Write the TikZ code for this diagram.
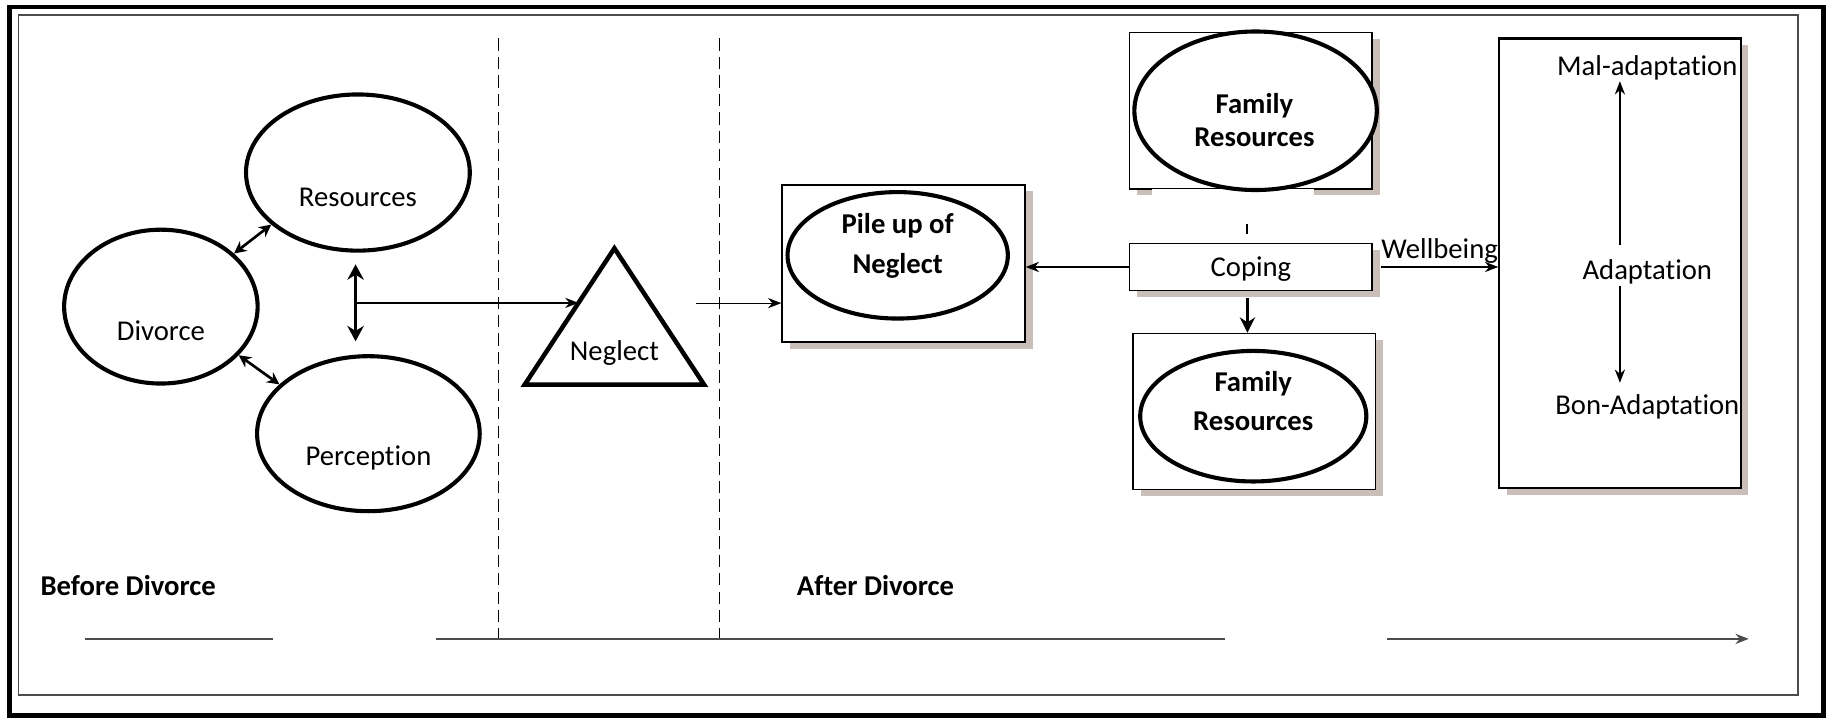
\documentclass[tikz,border=0pt]{standalone}
\usepackage{fontspec}
\setmainfont{Carlito}[Ligatures={NoCommon}]
\usepackage{xcolor}
\usepackage{tikz}
\usetikzlibrary{shadows, positioning, calc, shapes.geometric, arrows.meta}
\definecolor{shadowtaupe}{rgb}{0.79, 0.75, 0.72}
\definecolor{framegrey}{rgb}{0.30, 0.30, 0.30}

\begin{document}
\begin{tikzpicture}[x=0.02cm, y=-0.02cm, font=\fontsize{14}{17}\selectfont,
    bubble/.style={ellipse, draw, line width=2pt, fill=white, inner sep=0pt},
    panel/.style={rectangle, draw, line width=0.7pt, fill=white, inner sep=0pt,
        drop shadow={shadow xshift=0.13cm, shadow yshift=-0.11cm, fill=shadowtaupe, opacity=1}},
    lbl/.style={inner sep=0pt, text height=9pt, text depth=0pt},
    hdr/.style={lbl, font=\bfseries\fontsize{14}{17}\selectfont},
    boldlbl/.style={inner sep=0pt, align=center, font=\bfseries\fontsize{14}{19.3}\selectfont},
    thinarrow/.style={-{Stealth[length=6.5pt, width=5pt]}, line width=0.6pt},
    thickarrow/.style={-{Stealth[length=7.5pt, width=7.5pt]}, line width=1.5pt},
    twoway/.style={{Stealth[length=6pt, width=6pt]}-{Stealth[length=6pt, width=6pt]}, line width=1.3pt},
    bigtwoway/.style={{Stealth[length=7.5pt, width=8pt]}-{Stealth[length=7.5pt, width=8pt]}, line width=1.6pt}]
    \useasboundingbox (0,0) rectangle (1568,616);
    \draw[line width=2.4pt] (8,6) rectangle (1564,614);
    \draw[framegrey, line width=0.8pt] (16,13) rectangle (1542,596);
    \draw[dash pattern=on 6pt off 3pt, line width=0.5pt] (428,33) -- (428,548);
    \draw[dash pattern=on 6pt off 3pt, line width=0.5pt] (617,33) -- (617,548);
    \draw[framegrey, line width=0.8pt] (73,548) -- (234,548);
    \draw[framegrey, line width=0.8pt] (374,548) -- (1051,548);
    \draw[framegrey, line width=0.8pt, -{Stealth[length=6.5pt, width=5pt]}] (1190,548) -- (1500,548);

    \node[bubble, minimum width=3.32cm, minimum height=2.64cm] (divorce) at (138,263) {};
    \node[lbl] (divorcetxt) at (138,284) {Divorce};
    \node[bubble, minimum width=3.84cm, minimum height=2.68cm] (resources) at (307,148) {};
    \node[lbl] (resourcestxt) at (307,169) {Resources};
    \node[bubble, minimum width=3.82cm, minimum height=2.66cm] (perception) at (316,372) {};
    \node[lbl] (perceptiontxt) at (316,391) {Perception};
    \draw[twoway] (divorce.36) -- (resources.211);
    \draw[twoway] (divorce.-32) -- (perception.151);
    \coordinate (rtop) at ($(resources.south)+(-2,10)$);
    \coordinate (rbot) at ($(rtop |- perception.north)+(0,-11)$);
    \draw[bigtwoway] (rtop) -- (rbot);

    \coordinate (napex) at (527,213);
    \coordinate (nleft) at (450,330);
    \coordinate (nright) at (604,330);
    \draw[line width=2.2pt, line join=miter] (napex) -- (nright) -- (nleft) -- cycle;
    \node[lbl] (neglect) at (527,301) {Neglect};
    \coordinate (nin) at ($(nleft)!0.6!(napex)$);
    \draw[thinarrow] (rtop |- nin) -- (nin);

    \node[panel, minimum width=4.17cm, minimum height=2.7cm] (pilebox) at (775,226) {};
    \node[bubble, minimum width=3.78cm, minimum height=2.17cm] (pile) at (770,219) {};
    \node[boldlbl] (piletxt) at (770,211) {Pile up of\\Neglect};
    \coordinate (pilein) at ($(pilebox.west)+(0,34)$);
    \draw[thinarrow] ($(pilein)+(-73,0)$) -- (pilein);

    \node[panel, minimum width=4.16cm, minimum height=2.68cm] (famtopbox) at (1073,95) {};
    \fill[white] (988,162.5) rectangle (1127,170);
    \node[bubble, minimum width=4.16cm, minimum height=2.72cm] (famtop) at (1077,95) {};
    \node[boldlbl, font=\bfseries\fontsize{14}{16.5}\selectfont] (famtoptxt) at (1076,103) {Family\\Resources};
    \node[panel, minimum width=4.16cm, minimum height=2.68cm] (famlowbox) at (1076,353) {};
    \node[bubble, minimum width=3.88cm, minimum height=2.24cm] (famlow) at (1075,357) {};
    \node[boldlbl] (famlowtxt) at (1075,344) {Family\\Resources};

    \node[panel, lbl, minimum width=4.16cm, minimum height=0.8cm] (coping) at (1073,229) {Coping};
    \draw[thinarrow] (coping.west) -- (coping.west -| pilebox.east);
    \draw[line width=1pt] ($(coping.north)+(-3,-16)$) -- ++(0,8);
    \draw[thickarrow] ($(coping.south)+(-3,6)$) coordinate (cdown) -- (cdown |- famlowbox.north);

    \node[panel, line width=1pt, minimum width=4.14cm, minimum height=7.72cm] (adaptbox) at (1389.5,226) {};
    \node[lbl] (malad) at (1413,57) {Mal-adaptation};
    \node[lbl] (adapt) at (1413,232) {Adaptation};
    \node[lbl] (bonad) at (1413,348) {Bon-Adaptation};
    \draw[thinarrow, shorten >=2.5pt] ($(adaptbox.center)+(0,-16)$) -- (adaptbox.center |- malad.south);
    \draw[thinarrow, shorten >=6.5pt] ($(adaptbox.center)+(0,19)$) -- (adaptbox.center |- bonad.north);
    \draw[thinarrow] ($(coping.east)+(7,0)$) -- (coping.east -| adaptbox.west)
        node[lbl, midway, above=4pt] (wellbeing) {Wellbeing};

    \node[hdr] (before) at (110,503) {Before Divorce};
    \node[hdr] (after) at (751,503) {After Divorce};
\end{tikzpicture}
\end{document}
